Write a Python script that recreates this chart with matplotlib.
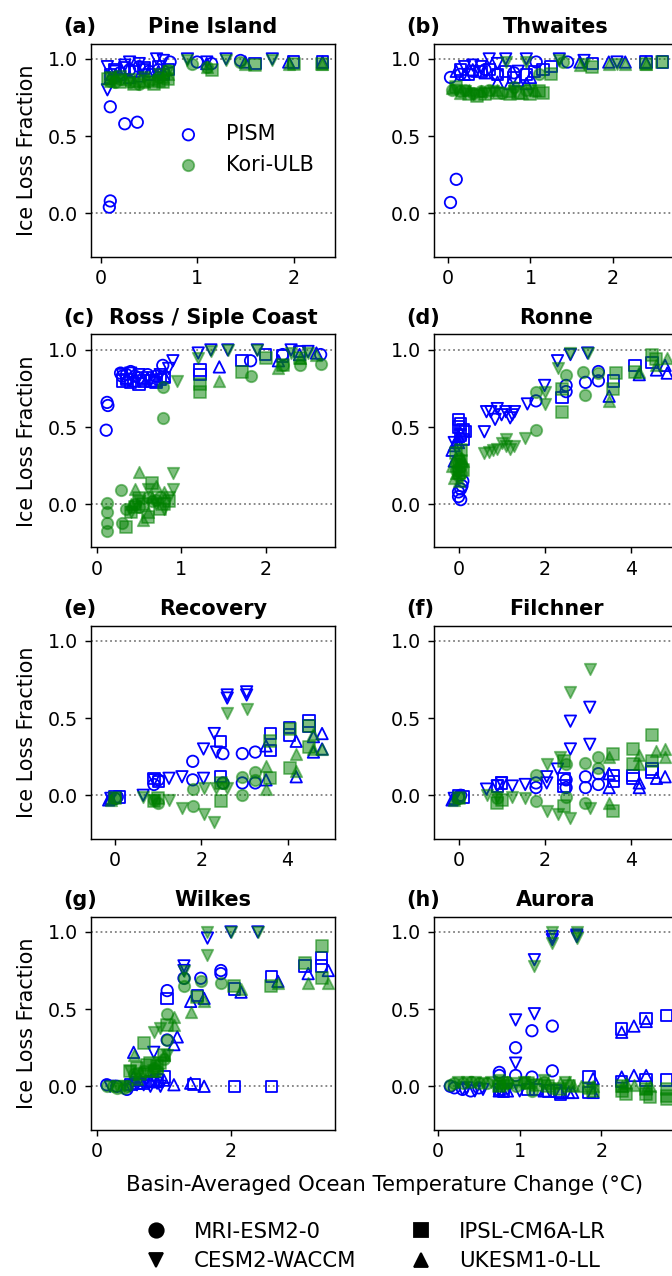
import matplotlib
matplotlib.use("Agg")
import matplotlib.pyplot as plt
from matplotlib.lines import Line2D
from matplotlib.transforms import offset_copy

# ---------- SETTINGS ----------
DPI = 130
W_PX, H_PX = 672, 1276

GCMS = ["MRI-ESM2-0", "CESM2-WACCM", "IPSL-CM6A-LR", "UKESM1-0-LL"]
MARKERS = {"MRI-ESM2-0": "o", "CESM2-WACCM": "v", "IPSL-CM6A-LR": "s", "UKESM1-0-LL": "^"}

BASINS = ["Pine Island", "Thwaites", "Ross / Siple Coast", "Ronne",
          "Recovery", "Filchner", "Wilkes", "Aurora"]
LETTERS = ["(a)", "(b)", "(c)", "(d)", "(e)", "(f)", "(g)", "(h)"]
XLIMS = [(-0.10, 2.43), (-0.17, 2.79), (-0.07, 2.82), (-0.57, 5.1),
         (-0.56, 5.1), (-0.57, 5.1), (-0.085, 3.55), (-0.05, 2.94)]
XTICKS = [[0, 1, 2], [0, 1, 2], [0, 1, 2], [0, 2, 4],
          [0, 2, 4], [0, 2, 4], [0, 2], [0, 1, 2]]
YTICKS = [0.0, 0.5, 1.0]

# ---------- DATA (temperature change, ice loss fraction) ----------
PIG_PISM = {
    "MRI-ESM2-0": [(0.1, 0.69), (0.25, 0.58), (0.38, 0.59), (0.1, 0.08), (0.09, 0.04), (0.72, 0.98),
                   (1.0, 0.98), (1.15, 0.97), (1.45, 0.99), (0.3, 0.93), (0.5, 0.92), (0.2, 0.91),
                   (0.4, 0.95), (0.6, 0.93)],
    "CESM2-WACCM": [(0.07, 0.8), (0.07, 0.95), (0.3, 0.98), (0.58, 1.0), (0.9, 1.0), (1.3, 1.0),
                    (1.78, 1.0), (0.15, 0.92), (0.45, 0.93), (1.1, 0.98), (0.25, 0.96), (0.4, 0.97),
                    (0.65, 0.99)],
    "IPSL-CM6A-LR": [(0.1, 0.9), (0.35, 0.92), (0.6, 0.95), (0.65, 0.9), (1.6, 0.97), (2.0, 0.98),
                     (2.3, 0.98), (0.25, 0.94), (0.5, 0.9), (0.15, 0.93), (0.45, 0.94), (0.7, 0.93)],
    "UKESM1-0-LL": [(0.1, 0.88), (0.2, 0.9), (0.4, 0.89), (0.65, 0.91), (1.1, 0.97), (1.5, 0.98),
                    (1.95, 0.98), (2.3, 0.98), (0.3, 0.88), (0.15, 0.89), (0.5, 0.9), (0.6, 0.92)],
}
PIG_KORI = {
    "MRI-ESM2-0": [(0.1, 0.86), (0.3, 0.85), (0.5, 0.86), (0.7, 0.93), (0.95, 0.97), (1.1, 0.95),
                   (1.45, 0.98), (0.2, 0.87), (0.15, 0.85), (0.4, 0.84), (0.6, 0.88)],
    "CESM2-WACCM": [(0.1, 0.88), (0.3, 0.87), (0.6, 0.9), (0.9, 0.99), (1.3, 0.99), (1.78, 0.99),
                    (0.2, 0.89), (0.45, 0.88), (0.7, 0.92)],
    "IPSL-CM6A-LR": [(0.08, 0.87), (0.35, 0.84), (0.6, 0.86), (0.7, 0.87), (1.15, 0.93), (1.6, 0.96),
                     (2.0, 0.97), (2.3, 0.97), (0.45, 0.86), (0.2, 0.85), (0.55, 0.84), (0.65, 0.85)],
    "UKESM1-0-LL": [(0.1, 0.86), (0.25, 0.87), (0.45, 0.85), (0.65, 0.88), (1.1, 0.95), (1.5, 0.97),
                    (1.95, 0.97), (2.3, 0.97), (0.15, 0.88), (0.35, 0.86), (0.55, 0.87), (0.7, 0.9)],
}

THW_PISM = {
    "MRI-ESM2-0": [(0.03, 0.88), (0.03, 0.07), (0.1, 0.22), (1.07, 0.98), (1.45, 0.98), (0.3, 0.92),
                   (0.6, 0.9), (0.15, 0.9), (0.45, 0.93), (0.8, 0.91)],
    "CESM2-WACCM": [(0.2, 0.95), (0.5, 1.0), (0.7, 1.0), (0.95, 1.0), (1.35, 1.0), (1.65, 0.99),
                    (2.05, 0.98), (0.3, 0.96), (0.4, 0.95), (0.6, 0.97), (0.85, 0.92)],
    "IPSL-CM6A-LR": [(0.15, 0.93), (0.4, 0.92), (0.6, 0.9), (0.8, 0.88), (1.05, 0.92), (1.25, 0.95),
                     (1.75, 0.97), (2.4, 0.98), (2.6, 0.98), (0.7, 0.92), (0.25, 0.9), (0.5, 0.93),
                     (0.95, 0.9), (1.15, 0.93)],
    "UKESM1-0-LL": [(0.1, 0.92), (0.3, 0.93), (0.6, 0.85), (0.75, 0.84), (0.95, 0.84), (1.6, 0.98),
                    (1.95, 0.98), (2.15, 0.98), (2.4, 0.98), (0.2, 0.9), (0.45, 0.91), (0.85, 0.86),
                    (1.0, 0.88)],
}
THW_KORI = {
    "MRI-ESM2-0": [(0.05, 0.8), (0.15, 0.79), (0.3, 0.78), (0.5, 0.8), (0.8, 0.82), (1.4, 0.98),
                   (1.1, 0.9), (0.2, 0.8), (0.4, 0.79), (0.65, 0.78), (0.95, 0.8)],
    "CESM2-WACCM": [(0.1, 0.8), (0.3, 0.77), (0.55, 0.79), (0.7, 0.98), (0.95, 0.98), (1.35, 0.99),
                    (1.65, 0.97), (2.05, 0.97), (0.2, 0.79), (0.45, 0.78), (0.8, 0.79), (1.0, 0.8)],
    "IPSL-CM6A-LR": [(0.1, 0.82), (0.35, 0.76), (0.6, 0.78), (0.85, 0.78), (1.1, 0.79), (1.25, 0.9),
                     (1.75, 0.95), (2.4, 0.97), (2.6, 0.98), (0.25, 0.77), (0.45, 0.77), (0.75, 0.77),
                     (1.0, 0.77), (1.15, 0.78)],
    "UKESM1-0-LL": [(0.05, 0.81), (0.25, 0.8), (0.6, 0.8), (0.9, 0.78), (1.6, 0.96), (1.95, 0.97),
                    (2.15, 0.97), (2.4, 0.97), (0.15, 0.78), (0.4, 0.79), (0.75, 0.79), (1.05, 0.8)],
}

ROSS_PISM = {
    "MRI-ESM2-0": [(0.12, 0.66), (0.13, 0.64), (0.11, 0.48), (0.28, 0.85), (0.35, 0.84), (0.45, 0.83),
                   (0.6, 0.84), (0.78, 0.9), (1.82, 0.93), (2.2, 0.97), (2.65, 0.97), (0.3, 0.83),
                   (0.5, 0.82), (0.7, 0.83), (0.4, 0.86)],
    "CESM2-WACCM": [(0.4, 0.85), (0.6, 0.82), (0.9, 0.93), (1.2, 0.98), (1.35, 1.0), (1.55, 1.0),
                    (1.9, 1.0), (2.3, 1.0), (2.5, 0.99), (0.3, 0.84), (0.5, 0.84), (0.75, 0.84),
                    (0.85, 0.88)],
    "IPSL-CM6A-LR": [(0.3, 0.8), (0.4, 0.79), (0.5, 0.78), (0.65, 0.8), (0.8, 0.82), (1.22, 0.87),
                     (1.22, 0.84), (1.72, 0.93), (2.0, 0.97), (2.2, 0.96), (2.4, 0.99), (0.35, 0.81),
                     (0.55, 0.8), (0.7, 0.79), (0.75, 0.81)],
    "UKESM1-0-LL": [(0.35, 0.82), (0.55, 0.81), (0.7, 0.8), (1.45, 0.89), (2.15, 0.93), (2.4, 0.97),
                    (2.6, 0.98), (0.45, 0.8), (0.6, 0.82), (0.8, 0.83)],
}
ROSS_KORI = {
    "MRI-ESM2-0": [(0.12, 0.01), (0.12, -0.05), (0.12, -0.12), (0.12, -0.17), (0.28, 0.09),
                   (0.3, -0.12), (0.45, 0.0), (0.6, 0.05), (0.78, 0.76), (0.78, 0.56), (1.82, 0.83),
                   (2.2, 0.9), (2.4, 0.9), (2.65, 0.91), (0.7, 0.03), (0.35, -0.03), (0.5, -0.02),
                   (0.65, 0.02), (0.75, 0.05)],
    "CESM2-WACCM": [(0.4, -0.05), (0.6, 0.1), (0.9, 0.2), (0.9, 0.1), (0.95, 0.8), (1.2, 0.95),
                    (1.35, 0.99), (1.55, 1.0), (1.9, 1.0), (2.3, 0.98), (2.5, 0.98), (0.5, 0.02),
                    (0.7, 0.0), (0.8, -0.03), (0.85, 0.05)],
    "IPSL-CM6A-LR": [(0.35, -0.15), (0.45, -0.02), (0.55, 0.0), (0.65, 0.14), (0.8, 0.0), (1.22, 0.78),
                     (1.22, 0.73), (1.72, 0.86), (2.0, 0.95), (2.2, 0.9), (2.4, 0.95), (0.4, -0.05),
                     (0.5, 0.04), (0.6, -0.08), (0.75, -0.03), (0.85, 0.02)],
    "UKESM1-0-LL": [(0.5, 0.21), (0.6, -0.05), (0.7, 0.12), (0.45, 0.1), (1.45, 0.8), (2.15, 0.88),
                    (2.4, 0.95), (2.6, 0.97), (0.4, 0.0), (0.55, -0.1), (0.65, 0.05), (0.8, 0.08)],
}

RONNE_PISM = {
    "MRI-ESM2-0": [(0.0, 0.05), (0.05, 0.03), (0.05, 0.1), (0.1, 0.15), (1.8, 0.67), (2.5, 0.77),
                   (2.95, 0.79), (3.25, 0.86), (3.25, 0.8), (2.5, 0.73), (0.08, 0.12), (0.0, 0.08)],
    "CESM2-WACCM": [(-0.1, 0.4), (0.6, 0.47), (0.65, 0.6), (0.9, 0.62), (1.0, 0.58), (1.3, 0.6),
                    (1.6, 0.65), (2.0, 0.77), (2.3, 0.93), (2.6, 0.97), (3.0, 0.98), (1.2, 0.56),
                    (0.75, 0.6), (0.85, 0.55), (1.1, 0.6), (1.25, 0.58)],
    "IPSL-CM6A-LR": [(0.0, 0.55), (0.1, 0.48), (0.05, 0.45), (2.4, 0.69), (3.6, 0.8), (4.1, 0.9),
                     (4.5, 0.92), (0.0, 0.5), (0.05, 0.52), (0.1, 0.42), (0.15, 0.47)],
    "UKESM1-0-LL": [(-0.15, 0.35), (-0.1, 0.28), (-0.05, 0.4), (0.0, 0.44), (3.5, 0.7), (4.2, 0.84),
                    (4.6, 0.87), (4.8, 0.9), (4.85, 0.85), (-0.1, 0.38), (0.0, 0.4), (0.05, 0.46)],
}
RONNE_KORI = {
    "MRI-ESM2-0": [(0.0, 0.3), (-0.05, 0.22), (0.05, 0.25), (0.0, 0.18), (1.8, 0.48), (2.5, 0.84),
                   (2.95, 0.71), (3.25, 0.85), (2.9, 0.86), (1.8, 0.73), (0.05, 0.2), (-0.05, 0.27)],
    "CESM2-WACCM": [(0.6, 0.33), (0.8, 0.35), (1.0, 0.4), (1.3, 0.38), (1.55, 0.43), (2.0, 0.65),
                    (2.3, 0.88), (2.6, 0.98), (3.0, 0.98), (2.0, 0.73), (1.1, 0.42), (0.7, 0.34),
                    (0.9, 0.36), (1.2, 0.36), (1.1, 0.38)],
    "IPSL-CM6A-LR": [(0.0, 0.2), (0.05, 0.28), (-0.05, 0.33), (2.4, 0.6), (2.4, 0.75), (3.6, 0.75),
                     (3.65, 0.85), (4.1, 0.86), (4.5, 0.97), (4.6, 0.94), (0.0, 0.25), (0.1, 0.22),
                     (0.05, 0.35)],
    "UKESM1-0-LL": [(-0.15, 0.25), (-0.1, 0.17), (0.05, 0.3), (3.5, 0.67), (4.2, 0.86), (4.6, 0.9),
                    (4.85, 0.95), (-0.05, 0.2), (0.1, 0.28), (0.0, 0.15)],
}

RECOV_PISM = {
    "MRI-ESM2-0": [(0.0, -0.02), (0.05, -0.01), (0.9, 0.07), (1.0, 0.1), (1.8, 0.22), (1.8, 0.1),
                   (2.5, 0.27), (2.5, 0.08), (2.95, 0.27), (2.95, 0.08), (3.25, 0.28), (3.25, 0.08)],
    "CESM2-WACCM": [(-0.1, -0.02), (0.65, 0.0), (0.9, 0.1), (1.25, 0.11), (1.55, 0.12), (2.05, 0.3),
                    (2.05, 0.11), (2.3, 0.4), (2.35, 0.28), (2.6, 0.63), (2.6, 0.65), (3.05, 0.65),
                    (3.05, 0.67)],
    "IPSL-CM6A-LR": [(0.0, -0.01), (0.1, -0.01), (0.9, 0.11), (1.0, 0.09), (2.45, 0.35), (2.45, 0.12),
                     (3.6, 0.4), (3.6, 0.29), (4.05, 0.44), (4.05, 0.39), (4.5, 0.48), (4.5, 0.45)],
    "UKESM1-0-LL": [(-0.15, -0.03), (-0.1, -0.02), (3.5, 0.32), (3.5, 0.1), (4.2, 0.35), (4.2, 0.12),
                    (4.6, 0.38), (4.6, 0.28), (4.8, 0.4), (4.8, 0.3)],
}
RECOV_KORI = {
    "MRI-ESM2-0": [(0.0, -0.02), (0.9, -0.03), (1.0, -0.05), (1.8, -0.07), (1.8, 0.04), (2.5, 0.08),
                   (2.95, 0.0), (2.95, 0.12), (3.25, 0.15), (3.25, 0.1)],
    "CESM2-WACCM": [(0.65, -0.01), (0.9, -0.03), (1.25, -0.03), (1.55, -0.08), (2.05, -0.12),
                    (2.3, -0.17), (2.35, 0.05), (2.6, 0.53), (2.6, 0.05), (3.05, 0.56), (2.05, 0.05)],
    "IPSL-CM6A-LR": [(0.0, -0.02), (0.9, -0.04), (1.0, -0.02), (2.45, 0.08), (2.45, -0.04), (3.6, 0.11),
                     (3.6, 0.35), (4.05, 0.18), (4.05, 0.43), (4.5, 0.31), (4.5, 0.45)],
    "UKESM1-0-LL": [(-0.1, -0.03), (3.5, 0.19), (3.5, 0.04), (4.2, 0.27), (4.2, 0.16), (4.6, 0.3),
                    (4.8, 0.3), (4.6, 0.4)],
}

FILCH_PISM = {
    "MRI-ESM2-0": [(0.0, -0.01), (0.05, 0.0), (1.8, 0.05), (1.8, 0.08), (2.5, 0.05), (2.5, 0.1),
                   (2.95, 0.05), (2.95, 0.12), (3.25, 0.14), (3.25, 0.07)],
    "CESM2-WACCM": [(-0.1, -0.02), (0.65, 0.04), (0.9, 0.06), (1.0, 0.08), (1.25, 0.06), (1.55, 0.07),
                    (2.05, 0.12), (2.05, 0.08), (2.3, 0.17), (2.6, 0.3), (2.6, 0.48), (3.05, 0.57),
                    (3.05, 0.33)],
    "IPSL-CM6A-LR": [(0.0, 0.0), (0.1, -0.01), (0.9, 0.06), (1.0, 0.08), (2.45, 0.11), (2.45, 0.06),
                     (3.6, 0.13), (3.6, 0.09), (4.05, 0.13), (4.05, 0.11), (4.5, 0.15), (4.5, 0.17)],
    "UKESM1-0-LL": [(-0.15, -0.03), (-0.1, -0.02), (3.5, 0.14), (3.5, 0.05), (4.2, 0.08), (4.2, 0.05),
                    (4.6, 0.11), (4.8, 0.12)],
}
FILCH_KORI = {
    "MRI-ESM2-0": [(0.0, -0.02), (0.9, -0.02), (1.8, 0.13), (1.8, -0.04), (2.5, 0.2), (2.5, -0.01),
                   (2.95, 0.21), (2.95, -0.05), (3.25, 0.25), (3.25, 0.18)],
    "CESM2-WACCM": [(0.65, 0.0), (0.9, -0.01), (1.25, -0.01), (1.55, -0.02), (2.05, 0.2), (2.05, -0.1),
                    (2.3, -0.12), (2.35, 0.25), (2.6, 0.67), (2.6, -0.15), (3.05, 0.82), (3.05, -0.08)],
    "IPSL-CM6A-LR": [(0.0, -0.02), (0.9, -0.05), (1.0, -0.03), (2.45, 0.22), (2.45, -0.07), (3.6, 0.27),
                     (3.6, -0.1), (4.05, 0.3), (4.05, 0.2), (4.5, 0.39), (4.5, 0.22)],
    "UKESM1-0-LL": [(-0.1, -0.03), (3.5, 0.25), (3.5, -0.05), (4.2, 0.26), (4.2, 0.2), (4.6, 0.29),
                    (4.8, 0.3), (4.8, 0.25)],
}

WILKES_PISM = {
    "MRI-ESM2-0": [(0.15, 0.01), (0.3, 0.0), (0.45, -0.02), (1.05, 0.62), (1.05, 0.3), (1.3, 0.7),
                   (1.55, 0.7), (1.85, 0.75), (1.85, 0.73)],
    "CESM2-WACCM": [(0.2, 0.0), (0.5, 0.0), (0.7, 0.01), (0.85, 0.22), (0.95, 0.0), (1.3, 0.78),
                    (1.3, 0.75), (1.65, 0.96), (2.0, 1.0), (2.4, 1.0), (0.6, 0.01), (0.8, 0.0),
                    (0.9, 0.02)],
    "IPSL-CM6A-LR": [(0.5, 0.01), (0.7, 0.02), (0.9, 0.04), (1.0, 0.06), (1.05, 0.57), (1.45, 0.01),
                     (1.5, 0.59), (2.05, 0.0), (2.05, 0.63), (2.6, 0.0), (2.6, 0.71), (3.1, 0.78),
                     (3.35, 0.83), (3.35, 0.78), (0.6, 0.02), (0.8, 0.03)],
    "UKESM1-0-LL": [(0.55, 0.22), (0.55, 0.06), (0.8, 0.03), (1.15, 0.01), (1.15, 0.27), (1.2, 0.32),
                    (1.4, 0.02), (1.4, 0.55), (1.6, 0.0), (1.6, 0.57), (2.15, 0.61), (2.7, 0.68),
                    (3.15, 0.73), (3.45, 0.75), (0.65, 0.04), (0.9, 0.03), (1.0, 0.04)],
}
WILKES_KORI = {
    "MRI-ESM2-0": [(0.15, 0.0), (0.3, -0.01), (0.45, 0.0), (1.05, 0.47), (1.05, 0.3), (1.3, 0.65),
                   (1.3, 0.7), (1.55, 0.68), (1.85, 0.67), (0.9, 0.1), (0.55, 0.08), (0.7, 0.1),
                   (0.85, 0.12), (1.0, 0.18), (0.25, 0.0), (0.4, -0.01)],
    "CESM2-WACCM": [(0.5, 0.1), (0.85, 0.35), (0.95, 0.38), (1.3, 0.75), (1.65, 1.0), (1.65, 0.85),
                    (2.0, 1.0), (2.4, 1.0), (1.05, 0.2), (0.3, 0.0), (0.4, 0.0)],
    "IPSL-CM6A-LR": [(0.5, 0.1), (0.7, 0.28), (0.8, 0.15), (0.9, 0.13), (1.0, 0.2), (1.05, 0.4),
                     (1.5, 0.58), (2.05, 0.65), (2.6, 0.65), (3.1, 0.8), (3.35, 0.91), (3.35, 0.7),
                     (0.6, 0.12), (0.65, 0.08), (0.75, 0.14), (0.85, 0.1), (0.95, 0.15)],
    "UKESM1-0-LL": [(0.55, 0.2), (0.6, 0.05), (0.8, 0.1), (1.15, 0.4), (1.15, 0.45), (1.4, 0.48),
                    (1.6, 0.55), (2.15, 0.63), (2.7, 0.67), (3.15, 0.67), (3.45, 0.67), (0.65, 0.1),
                    (0.9, 0.15), (1.0, 0.2)],
}

AURORA_PISM = {
    "MRI-ESM2-0": [(0.15, 0.0), (0.3, -0.02), (0.5, -0.01), (0.75, 0.09), (0.75, 0.07), (0.95, 0.25),
                   (0.95, 0.07), (1.15, 0.36), (1.15, 0.06), (1.4, 0.39), (1.4, 0.1), (0.2, -0.01),
                   (0.4, -0.03)],
    "CESM2-WACCM": [(0.35, -0.01), (0.55, -0.02), (0.85, -0.02), (0.95, 0.43), (0.95, 0.15),
                    (1.18, 0.82), (1.18, 0.47), (1.4, 0.95), (1.4, 0.97), (1.7, 0.97), (1.7, 0.98),
                    (0.3, -0.02), (0.45, -0.03), (0.75, -0.02), (1.0, -0.03)],
    "IPSL-CM6A-LR": [(0.75, -0.02), (1.1, -0.02), (1.35, -0.03), (1.5, -0.05), (1.85, 0.06), (1.85, -0.04),
                     (2.25, 0.37), (2.25, 0.03), (2.55, 0.44), (2.55, 0.04), (2.8, 0.46), (2.8, 0.04),
                     (0.8, -0.03), (1.2, -0.02), (1.45, -0.03)],
    "UKESM1-0-LL": [(0.75, -0.03), (1.5, -0.04), (1.65, -0.04), (1.9, 0.05), (1.9, -0.04), (2.25, 0.35),
                    (2.25, 0.06), (2.4, 0.39), (2.4, 0.07), (2.55, 0.42), (2.55, 0.07), (0.85, -0.03),
                    (1.3, -0.03), (1.6, -0.04)],
}
AURORA_KORI = {
    "MRI-ESM2-0": [(0.15, 0.01), (0.3, 0.02), (0.5, 0.02), (0.75, 0.02), (0.95, 0.0), (1.15, -0.03),
                   (1.4, -0.01), (0.2, 0.02), (0.4, 0.03), (0.6, 0.02), (0.85, 0.03), (1.05, 0.02),
                   (1.3, 0.03)],
    "CESM2-WACCM": [(0.35, 0.03), (0.55, 0.02), (0.85, 0.01), (0.95, 0.02), (1.18, 0.78), (1.18, 0.01),
                    (1.4, 1.0), (1.4, 0.93), (1.7, 1.0), (1.7, 0.96), (0.65, 0.03), (0.25, 0.03),
                    (0.45, 0.03), (0.75, 0.04), (1.05, 0.03), (1.3, 0.04), (1.55, 0.03)],
    "IPSL-CM6A-LR": [(0.75, 0.0), (1.1, 0.02), (1.35, 0.0), (1.5, -0.02), (1.85, -0.01), (2.25, -0.03),
                     (2.25, 0.0), (2.55, -0.05), (2.55, -0.02), (2.8, -0.06), (2.8, -0.02), (0.8, 0.02),
                     (1.2, 0.01), (1.6, 0.0), (1.9, -0.03), (2.3, -0.05), (2.6, -0.07), (2.8, -0.08)],
    "UKESM1-0-LL": [(0.75, 0.01), (1.5, 0.02), (1.65, 0.01), (1.9, 0.0), (2.25, 0.0), (2.4, 0.01),
                    (2.55, -0.01), (0.85, 0.03), (1.1, 0.03), (1.35, 0.02), (1.6, 0.03), (1.75, 0.0),
                    (2.3, 0.02), (2.6, 0.0)],
}

PISM_DATA = [PIG_PISM, THW_PISM, ROSS_PISM, RONNE_PISM, RECOV_PISM, FILCH_PISM, WILKES_PISM, AURORA_PISM]
KORI_DATA = [PIG_KORI, THW_KORI, ROSS_KORI, RONNE_KORI, RECOV_KORI, FILCH_KORI, WILKES_KORI, AURORA_KORI]


# ---------- LAYOUT (pixel boxes, right column runs past the edge) ----------
def axes_rect(row, col):
    left = 91 if col == 0 else 434
    top = 43.5 + row * 291
    w, h = 244, 213
    return [left / W_PX, 1 - (top + h) / H_PX, w / W_PX, h / H_PX]


fig = plt.figure(figsize=(W_PX / DPI, H_PX / DPI), dpi=DPI)

for i, basin in enumerate(BASINS):
    row, col = divmod(i, 2)
    ax = fig.add_axes(axes_rect(row, col))

    for gcm in GCMS:
        pts = PISM_DATA[i][gcm]
        ax.scatter([p[0] for p in pts], [p[1] for p in pts], s=40, marker=MARKERS[gcm],
                   facecolors="none", edgecolors="blue", linewidths=1.0, zorder=3)
    for gcm in GCMS:
        pts = KORI_DATA[i][gcm]
        ax.scatter([p[0] for p in pts], [p[1] for p in pts], s=40, marker=MARKERS[gcm],
                   color="green", alpha=0.5, zorder=4)

    ax.axhline(0, color="gray", ls=":", lw=1, zorder=1)
    ax.axhline(1, color="gray", ls=":", lw=1, zorder=1)
    ax.set_xlim(*XLIMS[i])
    ax.set_ylim(-0.28, 1.1)
    ax.set_xticks(XTICKS[i])
    ax.set_yticks(YTICKS)
    ax.tick_params(labelsize=10.5)
    ax.set_title(basin, fontsize=11.5, fontweight="bold")
    ax.text(-0.115, 1.0, LETTERS[i], fontsize=11.5, fontweight="bold", ha="left", va="baseline",
            transform=offset_copy(ax.transAxes, fig=fig, y=6, units="points"))
    if col == 0:
        ax.set_ylabel("Ice Loss Fraction", fontsize=11.5, labelpad=6)

    if i == 0:
        h1 = ax.scatter([], [], s=40, marker="o", facecolors="none", edgecolors="blue", linewidths=1.0)
        h2 = ax.scatter([], [], s=40, marker="o", color="green", alpha=0.5)
        ax.legend([h1, h2], ["PISM", "Kori-ULB"], loc="upper left", bbox_to_anchor=(0.28, 0.66),
                  frameon=False, fontsize=11.5, borderaxespad=0)

fig.text(384.5 / W_PX, 1 - 1185 / H_PX, "Basin-Averaged Ocean Temperature Change (°C)",
         ha="center", va="center", fontsize=11.8)

handles = [Line2D([], [], ls="none", marker=MARKERS[g], color="black", markersize=8) for g in GCMS]
fig.legend(handles, GCMS, ncol=2, loc="upper left", bbox_to_anchor=(126 / W_PX, 1 - 1213 / H_PX),
           frameon=False, fontsize=11.8, borderaxespad=0, labelspacing=0.45, columnspacing=2.0)

fig.savefig("out.png", dpi=DPI)
